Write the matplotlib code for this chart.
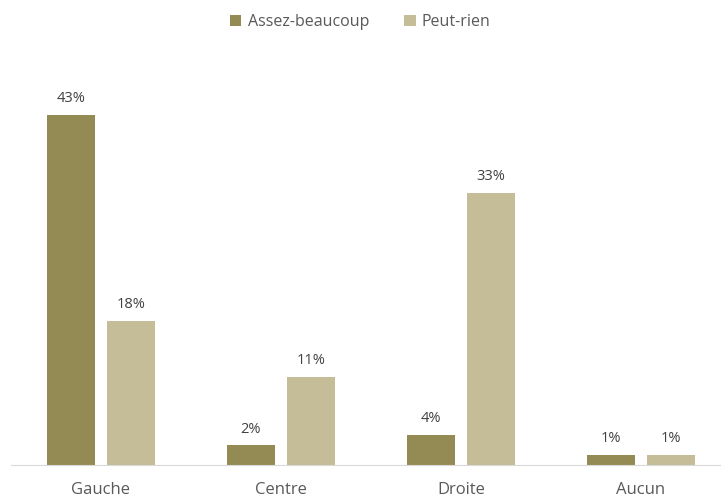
import matplotlib.pyplot as plt
import numpy as np

categories = ['Gauche', 'Centre', 'Droite', 'Aucun']
assez = [43, 2.4, 3.7, 1.2]
peu = [17.7, 10.8, 33.4, 1.2]

plt.rcParams['font.family'] = ['Open Sans', 'DejaVu Sans']
grey = '#595959'

fig = plt.figure(figsize=(7.21, 4.98), dpi=100)
ax = fig.add_axes([11 / 721, (498 - 465) / 498, 720 / 721, 407 / 498])

x = np.arange(len(categories))
w = 0.267
b1 = ax.bar(x - 0.1667, assez, w, color='#948A54', label='Assez-beaucoup')
b2 = ax.bar(x + 0.1667, peu, w, color='#C4BD97', label='Peut-rien')

for bars, vals in ((b1, assez), (b2, peu)):
    for b, v in zip(bars, vals):
        ax.text(b.get_x() + b.get_width() / 2, v + 1.1, f'{round(v)}%',
                ha='center', va='bottom', fontsize=10.5, color='#404040')

ax.set_xlim(-0.5, 3.5)
ax.set_ylim(0, 50)
ax.set_xticks(x)
ax.set_xticklabels(categories, fontsize=12, color=grey)
ax.tick_params(axis='x', length=0, pad=12)
ax.set_yticks([])
for s in ['top', 'right', 'left']:
    ax.spines[s].set_visible(False)
ax.spines['bottom'].set_color('#D9D9D9')

fig.legend(loc='upper center', bbox_to_anchor=(0.5, 1.0), ncol=2, frameon=False,
           fontsize=11.5, labelcolor=grey, handlelength=0.7, handleheight=0.7,
           handletextpad=0.4, columnspacing=2.2)

fig.savefig('out.png', dpi=100)
